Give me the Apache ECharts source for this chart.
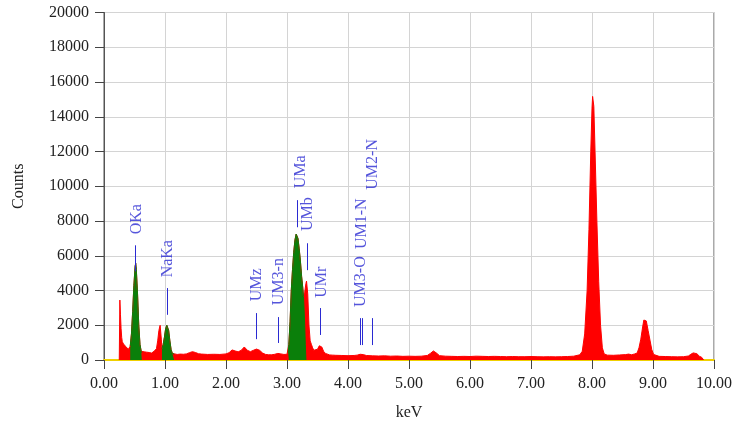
<!DOCTYPE html>
<html>
<head>
<meta charset="utf-8">
<script src="https://cdn.jsdelivr.net/npm/echarts@6/dist/echarts.min.js"></script>
<style>html,body{margin:0;padding:0;background:#fff}#c{width:735px;height:435px}</style>
</head>
<body>
<div id="c"></div>
<script>
// Full spectrum (red): energy keV and counts
var specKeV = [0.25,0.26,0.27,0.28,0.29,0.30,0.32,0.34,0.36,0.38,0.40,0.42,
  0.43,0.45,0.47,0.49,0.51,0.52,0.53,0.55,0.57,0.59,0.61,0.62,
  0.64,0.66,0.68,0.70,0.72,0.74,0.76,0.78,0.80,0.82,0.84,0.86,0.88,0.90,0.92,0.93,0.94,
  0.95,0.97,0.99,1.01,1.03,1.04,1.06,1.08,1.10,1.12,1.15,
  1.20,1.25,1.30,1.35,1.40,1.45,1.50,1.55,1.60,1.70,1.80,1.90,2.00,2.05,2.10,2.15,2.20,2.25,2.30,2.35,2.40,2.45,2.50,2.55,2.60,2.65,2.70,2.75,2.80,2.85,2.90,2.95,3.00,
  3.02,3.03,3.05,3.07,3.09,3.11,3.13,3.15,3.16,3.18,3.20,3.22,3.24,3.26,3.27,3.29,3.31,3.32,3.34,3.36,3.38,3.40,3.42,3.44,3.46,3.50,3.53,3.55,3.57,3.60,3.63,3.66,3.70,
  3.75,3.80,3.90,4.00,4.10,4.15,4.20,4.25,4.30,4.40,4.50,4.60,4.70,4.80,4.90,5.00,5.10,5.20,5.30,5.35,5.40,5.45,5.50,5.60,5.70,5.80,5.90,6.00,6.10,6.20,6.30,6.40,6.50,6.60,6.70,6.80,6.90,7.00,7.10,7.20,7.30,7.40,7.50,7.60,7.70,
  7.80,7.84,7.88,7.92,7.95,7.98,8.00,8.01,8.03,8.05,8.08,8.11,8.14,8.17,8.20,8.25,8.35,8.45,8.55,8.60,8.65,8.70,
  8.74,8.77,8.80,8.83,8.85,8.87,8.89,8.92,8.95,8.98,9.01,9.04,9.10,9.20,9.30,9.40,9.50,9.58,9.62,9.66,9.69,9.72,9.76,9.80,9.83];
var specCounts = [0,3450,2600,1800,1300,1050,920,850,760,660,620,700,
  800,1500,2800,4300,5400,5570,5200,3800,2000,900,500,420,
  420,470,400,450,520,430,480,400,460,500,560,650,1100,1700,2000,1900,1200,
  650,900,1300,1800,2000,2000,1700,1100,600,380,340,
  320,340,330,350,420,480,430,360,340,320,330,320,350,420,580,520,470,560,750,560,480,560,630,560,400,320,300,300,330,380,350,320,330,
  400,900,2200,4000,5200,6200,6900,7250,7300,7000,6400,5700,4800,4100,3650,3900,4400,4540,3800,2000,1100,900,700,560,500,620,820,860,750,500,380,320,290,
  280,270,260,250,260,280,330,310,260,240,230,240,220,230,210,220,210,220,260,380,520,400,250,220,210,200,210,200,220,210,200,210,200,190,200,190,190,200,190,180,190,180,190,200,220,
  300,500,1500,4000,7500,12000,14500,15170,14600,12000,8000,4500,2000,700,350,280,270,290,310,340,300,350,
  400,700,1200,1900,2300,2410,2250,1700,1150,600,320,230,210,200,190,180,190,230,330,410,420,360,220,150,0];

// Identified peaks (green)
var okaKeV = [0.43,0.45,0.47,0.49,0.51,0.52,0.53,0.55,0.57,0.59,0.61,0.62];
var okaCounts = [800,1500,2800,4300,5400,5570,5200,3800,2000,900,500,420];
var nakaKeV = [0.95,0.97,0.99,1.01,1.03,1.04,1.06,1.08,1.10,1.12,1.15];
var nakaCounts = [650,900,1300,1800,2000,2000,1700,1100,600,380,340];
var umaKeV = [3.02,3.03,3.05,3.07,3.09,3.11,3.13,3.15,3.16,3.18,3.20,3.22,3.24,3.26,3.27,3.28,3.29,3.30,3.31];
var umaCounts = [400,900,2200,4000,5200,6200,6900,7250,7300,7000,6400,5700,4800,4100,3650,2900,2000,900,0];

// Line markers: name, energy, marker bottom/top counts, label position (keV, counts)
var markerNames = ['OKa','NaKa','UMz','UM3-n','UMa','UMb','UMr','UM3-O','UM1-N','UM2-N'];
var markerKeV   = [0.52,1.04,2.50,2.86,3.16,3.34,3.55,4.20,4.235,4.39];
var markerLow   = [5100,2600,1200,980,7640,5170,1440,860,860,860];
var markerHigh  = [6600,4140,2700,2470,9200,6720,2990,2410,2410,2410];
var labelKeV    = [0.53,1.05,2.51,2.87,3.225,3.345,3.575,4.215,4.23,4.405];
var labelCounts = [8100,5830,4330,4510,10830,8400,4480,4510,7840,11260];

var xTicks = {min:0, max:10, interval:1};
var yTicks = {min:0, max:20000, interval:2000};

function pairs(xs, ys){ return xs.map(function(x,i){ return [x, ys[i]]; }); }

var FONT = '"Liberation Serif", "Times New Roman", serif';
var RED = '#ff0000', GREEN = '#0a7f0a', BLUE = '#2a2ad2';

function areaSeries(data, color){
  return {type:'line', data:data, showSymbol:false, symbol:'none', smooth:false, silent:true,
    lineStyle:{color:color, width:1}, areaStyle:{color:color, opacity:1}, itemStyle:{color:color}};
}

var markLines = markerKeV.map(function(x,i){
  return [{coord:[x, markerLow[i]]},{coord:[x, markerHigh[i]]}];
});
var labelData = labelKeV.map(function(x,i){ return {value:[x, labelCounts[i]], name:markerNames[i]}; });

var chart = echarts.init(document.getElementById('c'), null, {renderer:'canvas'});
chart.setOption({
  animation:false,
  grid:{left:104, right:21, top:12.5, bottom:75, containLabel:false, outerBoundsMode:'none',
    show:true, borderColor:'#555', borderWidth:1},
  xAxis:{type:'value', min:xTicks.min, max:xTicks.max, interval:xTicks.interval,
    name:'keV', nameLocation:'middle', nameGap:45,
    nameTextStyle:{fontFamily:FONT, fontSize:16, color:'#222'},
    axisLine:{lineStyle:{color:'#f0d000', width:2}},
    axisTick:{show:true, inside:false, length:9, lineStyle:{color:'#444', width:1}},
    axisLabel:{margin:16, fontFamily:FONT, fontSize:16, color:'#222', formatter:function(v){return v.toFixed(2);}},
    splitLine:{show:true, lineStyle:{color:'#d4d4d4', width:1}}},
  yAxis:{type:'value', min:yTicks.min, max:yTicks.max, interval:yTicks.interval,
    name:'Counts', nameLocation:'middle', nameGap:77, nameRotate:90,
    nameTextStyle:{fontFamily:FONT, fontSize:16, color:'#222'},
    axisLine:{show:true, lineStyle:{color:'#555', width:1}},
    axisTick:{show:true, inside:false, length:9, lineStyle:{color:'#444', width:1}},
    axisLabel:{margin:15, fontFamily:FONT, fontSize:16, color:'#222', formatter:function(v){return String(v);}},
    splitLine:{show:true, lineStyle:{color:'#d4d4d4', width:1}}},
  series:[
    areaSeries(pairs(specKeV, specCounts), RED),
    areaSeries(pairs(okaKeV, okaCounts), GREEN),
    areaSeries(pairs(nakaKeV, nakaCounts), GREEN),
    areaSeries(pairs(umaKeV, umaCounts), GREEN),
    {type:'scatter', data:labelData, symbolSize:0, silent:true, z:5,
      label:{show:true, position:'inside', rotate:90, formatter:'{b}', fontFamily:FONT, fontSize:16, color:BLUE},
      markLine:{silent:true, symbol:'none', animation:false, label:{show:false},
        lineStyle:{color:BLUE, width:1, type:'solid'}, data:markLines}}
  ]
});
</script>
</body>
</html>
